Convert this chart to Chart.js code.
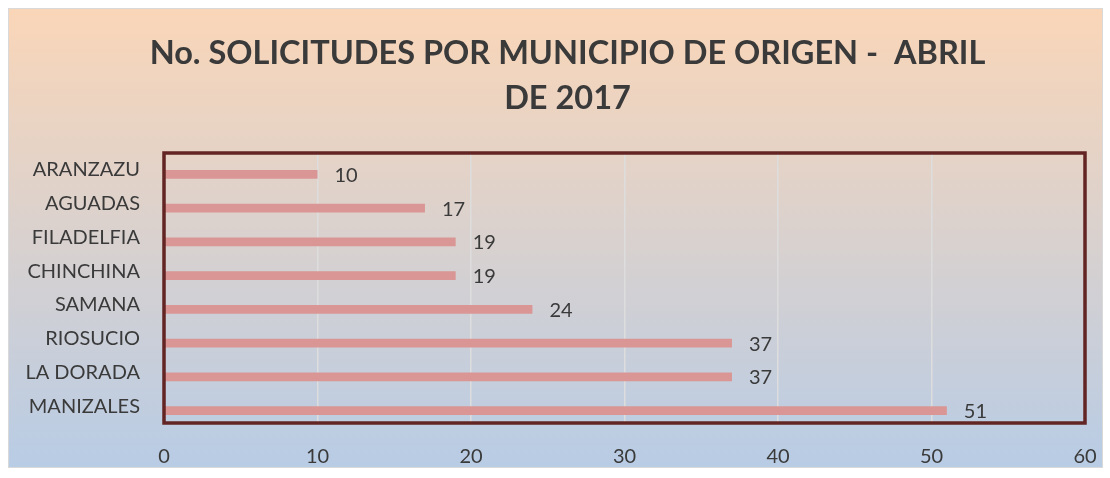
<!DOCTYPE html>
<html>
<head>
<meta charset="utf-8">
<script src="https://cdn.jsdelivr.net/npm/chart.js@4"></script>
<style>
  html, body { margin: 0; padding: 0; background: #fff; }
  #wrap { width: 1110px; height: 478px; }
</style>
</head>
<body>
<div id="wrap"><canvas id="myChart" width="1110" height="478"></canvas></div>
<script>
// data, top to bottom as in the picture
var municipios = ["ARANZAZU", "AGUADAS", "FILADELFIA", "CHINCHINA", "SAMANA", "RIOSUCIO", "LA DORADA", "MANIZALES"];
var solicitudes = [10, 17, 19, 19, 24, 37, 37, 51];
var xTicks = [0, 10, 20, 30, 40, 50, 60];
var titleLines = ["No. SOLICITUDES POR MUNICIPIO DE ORIGEN -  ABRIL", "DE 2017"];

var textColor = "#3A3A3A";
var barColor = "#D99694";
var frameColor = "#632523";

// background box with gradient + title, drawn under everything
var bgPlugin = {
  id: "bg",
  beforeDraw: function (chart) {
    var ctx = chart.ctx;
    ctx.save();
    ctx.fillStyle = "#ffffff";
    ctx.fillRect(0, 0, chart.width, chart.height);
    var g = ctx.createLinearGradient(0, 9, 0, 468);
    g.addColorStop(0, "#FAD6B8");
    g.addColorStop(1, "#B8CCE5");
    ctx.fillStyle = g;
    ctx.fillRect(8.5, 8.5, 1094, 459);
    ctx.strokeStyle = "#D9D9D9";
    ctx.lineWidth = 1;
    ctx.strokeRect(8.5, 8.5, 1094, 459);

    // title (Chart.js title would centre on the whole box, this one sits a bit right)
    ctx.fillStyle = textColor;
    ctx.font = "bold 32.5px Lato";
    ctx.textAlign = "center";
    ctx.textBaseline = "alphabetic";
    ctx.fillText(titleLines[0], 567.5, 64);
    ctx.fillText(titleLines[1], 567.5, 109);
    ctx.restore();
  }
};

// thick frame round the plot area + value labels
var framePlugin = {
  id: "frame",
  afterDatasetsDraw: function (chart) {
    var ctx = chart.ctx;
    var a = chart.chartArea;
    ctx.save();
    ctx.strokeStyle = frameColor;
    ctx.lineWidth = 3.5;
    ctx.strokeRect(a.left, a.top, a.right - a.left, a.bottom - a.top);

    var meta = chart.getDatasetMeta(1);
    ctx.fillStyle = textColor;
    ctx.font = "20px Lato";
    ctx.textAlign = "left";
    ctx.textBaseline = "middle";
    meta.data.forEach(function (bar, i) {
      ctx.fillText(String(solicitudes[i]), bar.x + 17, bar.y + 1);
    });
    ctx.restore();
  }
};

new Chart("myChart", {
  type: "bar",
  data: {
    labels: municipios,
    datasets: [
      {
        // empty series, only keeps the bars in the lower half of each slot
        data: municipios.map(function () { return null; }),
        backgroundColor: "rgba(0,0,0,0)",
      },
      {
        data: solicitudes,
        backgroundColor: barColor,
        borderWidth: 0,
      },
    ],
  },
  options: {
    indexAxis: "y",
    responsive: false,
    animation: false,
    categoryPercentage: 0.533,
    barPercentage: 0.95,
    layout: {
      padding: { left: 8, right: 25, top: 153, bottom: 9 },
    },
    plugins: {
      legend: { display: false },
      tooltip: { enabled: false },
      title: { display: false },
    },
    scales: {
      x: {
        min: 0,
        max: 60,
        afterBuildTicks: function (scale) {
          scale.ticks = xTicks.map(function (v) { return { value: v }; });
        },
        afterFit: function (scale) {
          scale.height = 46;
          scale.paddingLeft = 0;
          scale.paddingRight = 0;
        },
        grid: { color: "#DDDDDD", lineWidth: 1.5, drawTicks: false },
        border: { display: false },
        ticks: {
          color: textColor,
          padding: 22,
          font: { family: "Lato", size: 20 },
        },
      },
      y: {
        afterFit: function (scale) {
          scale.width = 156;
        },
        grid: { display: false, drawTicks: false },
        border: { display: false },
        ticks: {
          color: textColor,
          padding: 24,
          font: { family: "Lato", size: 20 },
        },
      },
    },
  },
  plugins: [bgPlugin, framePlugin],
});
</script>
</body>
</html>
